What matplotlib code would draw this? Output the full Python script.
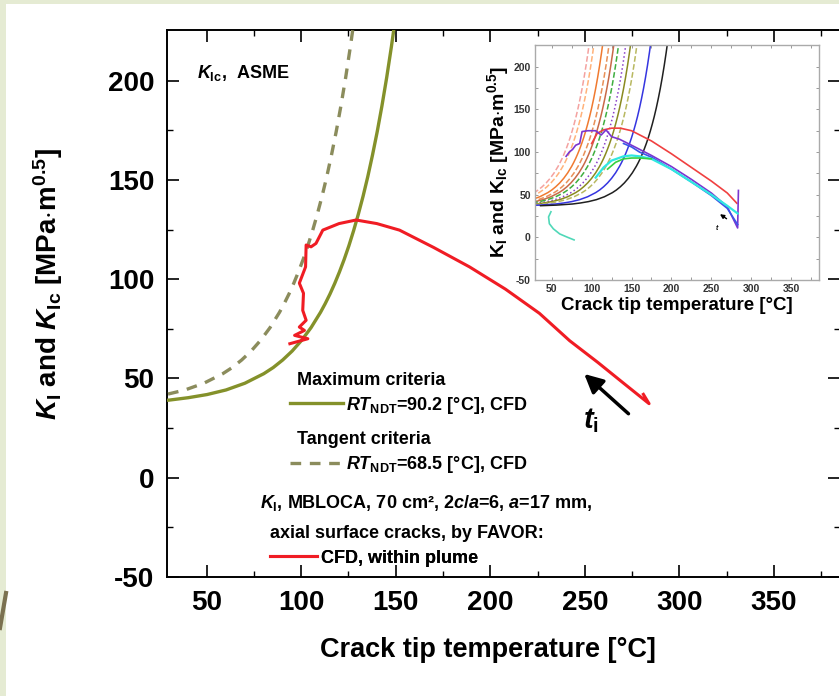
import matplotlib
matplotlib.use("Agg")
import matplotlib.pyplot as plt
from matplotlib.patches import Rectangle
from matplotlib.lines import Line2D
import numpy as np

plt.rcParams['font.family'] = ['Liberation Sans', 'DejaVu Sans']
plt.rcParams['font.weight'] = 'bold'
plt.rcParams['axes.labelweight'] = 'bold'
plt.rcParams['axes.unicode_minus'] = False
plt.rcParams['mathtext.fontset'] = 'custom'
plt.rcParams['mathtext.rm'] = 'Liberation Sans:bold'
plt.rcParams['mathtext.bf'] = 'Liberation Sans:bold'
plt.rcParams['mathtext.it'] = 'Liberation Sans:italic:bold'
plt.rcParams['mathtext.default'] = 'it'

# ASME K_Ic curve, read as (T - RT_NDT) offset vs toughness
kic_offset = [-100, -80, -60, -50, -40, -30, -20, -10, -5, 0, 5, 10, 15, 20, 22.5, 25,
              27.5, 30, 32.5, 35, 37.5, 40, 42.5, 45, 47.5, 50, 52.5, 55, 57.5, 60]
kic_value = [37.1, 37.8, 39.1, 40.3, 41.9, 44.2, 47.6, 52.4, 55.5, 59.3, 63.8, 69.2, 75.6,
             83.3, 87.7, 92.5, 97.8, 103.6, 109.9, 116.8, 124.4, 132.7, 141.7, 151.6,
             162.5, 174.3, 187.3, 201.5, 217.1, 234.0]

rt_max = 90.2   # maximum criteria
rt_tan = 68.5   # tangent criteria

# K_I, CFD within plume
ki_temp = [94, 103.5, 96.5, 101.7, 99, 102.6, 100.8, 101.2, 99, 102.3, 102.6, 105.2,
           107.8, 110.5, 111.4, 120, 129, 140, 152, 170, 189, 208, 226, 242, 257, 270, 284, 281]
ki_val = [67.5, 70, 71.7, 74.2, 75.9, 79.3, 84.3, 92.9, 98, 106.2, 117.2, 116.3,
          118, 123, 124.7, 128, 129.8, 128, 124.7, 116, 106.2, 95, 82.8, 69, 58, 48, 37.3, 42]

# inset: RT_NDT of each K_Ic curve
inset_rt = [38, 44, 55, 63, 69, 75, 84, 90, 98, 115, 136]
inset_rt_color = ['#f4a2a0', '#ffb27a', '#f07a30', '#e89058', '#c86a48', '#3fae3f',
                  '#8a40c8', '#8a8a20', '#b8b860', '#3535e0', '#202020']
inset_rt_style = ['--', '--', '-', '--', '-', '--', ':', '-', '--', '-', '-']

# inset: K_I histories
inset_ki = {
    'red': ([100, 107, 115, 125, 136, 150, 175, 200, 225, 250, 270, 282],
            [110, 122, 126, 128, 128, 125, 113, 98, 82, 66, 52, 40]),
    'purple': ([68, 72, 76, 80, 85, 88, 95, 105, 112, 118, 125, 135, 150, 175, 200, 225, 250, 270, 283, 284],
               [95, 100, 103, 108, 110, 124, 125, 125, 120, 126, 118, 115, 108, 96, 83, 68, 52, 36, 11, 55]),
    'blue': ([140, 150, 160, 175, 200, 225, 250, 270, 283],
             [110, 106, 100, 94, 80, 65, 49, 34, 15]),
    'cyan': ([105, 115, 125, 140, 150, 160, 175, 200, 225, 250, 270, 283],
             [70, 82, 90, 95, 96, 95, 92, 80, 65, 50, 37, 28]),
    'green': ([120, 130, 140, 150, 160, 175],
              [80, 88, 92, 93, 93, 92]),
    'teal': ([49, 46, 47, 52, 60, 70, 78],
             [30, 24, 16, 10, 4, 0, -3]),
}
inset_ki_color = {'red': '#f04040', 'purple': '#7a35d0', 'blue': '#3a55e8',
                  'cyan': '#30e8e0', 'green': '#35d040', 'teal': '#50d8b8'}

xlim = (29, 385)
ylim = (-50, 225.5)
fs_note = 13

fig = plt.figure(figsize=(8.39, 6.96), dpi=100)
fig.patch.set_facecolor('#e5ebd3')
fig.add_artist(Rectangle((6 / 839, 0), 1, 1 - 4 / 696, transform=fig.transFigure,
                         facecolor='white', edgecolor='none', zorder=-10))
fig.add_artist(Line2D([0, 6 / 839], [1 - 628 / 696, 1 - 593 / 696], color='#7b7150', lw=3))

ax = fig.add_axes([167 / 839, 1 - 577 / 696, 673 / 839, 547 / 696])
off = np.array(kic_offset)
ax.plot(off + rt_max, kic_value, color='#84912a', lw=2.4, zorder=3)
ax.plot(off + rt_tan, kic_value, color='#8b8c5c', lw=2.4, ls=(0, (3.2, 2.6)), zorder=3)
ax.plot(ki_temp, ki_val, color='#f01c24', lw=2.2, zorder=4)

ax.annotate('', xy=(248.6, 53.2), xytext=(274.2, 31.3),
            arrowprops=dict(arrowstyle='-|>', lw=2.5, color='black', mutation_scale=28))
ax.text(253, 29, r'$t_{\rm i}$', fontsize=21, ha='center', va='center')

ax.set_xlim(*xlim)
ax.set_ylim(*ylim)
ax.set_xticks([50, 100, 150, 200, 250, 300, 350])
ax.set_yticks([-50, 0, 50, 100, 150, 200])
ax.set_xticks(np.arange(75, 385, 50), minor=True)
ax.set_yticks(np.arange(-25, 225, 50), minor=True)
ax.tick_params(which='major', direction='in', length=8.5, width=1.2, labelsize=20,
               top=True, right=True, pad=9)
ax.tick_params(which='minor', direction='in', length=4.5, width=1.0, top=True, right=True)
for s in ax.spines.values():
    s.set_linewidth(1.4)
ax.set_xlabel('Crack tip temperature [°C]', fontsize=19.5, va='center')
ax.set_ylabel(r'$K_{\rm I}$ and $K_{\rm Ic}$ [MPa$\cdot$m$^{0.5}$]', fontsize=20, va='center')
ax.xaxis.set_label_coords(0.477, -0.133)
ax.yaxis.set_label_coords(-0.177, 0.535)

ax.text(0.045, 0.921, r'$K_{\rm Ic}$,  ASME', transform=ax.transAxes, fontsize=fs_note,
        va='center')

# legend block
ax.text(0.193, 0.360, 'Maximum criteria', transform=ax.transAxes, fontsize=fs_note, va='center')
ax.text(0.193, 0.2505, 'Tangent criteria', transform=ax.transAxes, fontsize=fs_note, va='center')
ax.text(0.138, 0.135, r'$K_{\rm I}$, MBLOCA, 70 cm², 2$c/a$=6, $a$=17 mm,',
        transform=ax.transAxes, fontsize=fs_note, va='center')
ax.text(0.153, 0.0804, 'axial surface cracks, by FAVOR:', transform=ax.transAxes,
        fontsize=fs_note, va='center')

h_max = Line2D([], [], color='#84912a', lw=2.4)
h_tan = Line2D([], [], color='#8b8c5c', lw=2.4, ls=(0, (3.2, 2.6)))
h_cfd = Line2D([], [], color='#f01c24', lw=2.2)
for h, lab, x, y, hl in [(h_max, r'$RT_{\rm NDT}$=90.2 [°C], CFD', 0.183, 0.3144, 2.9),
                         (h_tan, r'$RT_{\rm NDT}$=68.5 [°C], CFD', 0.183, 0.2048, 2.9),
                         (h_cfd, 'CFD, within plume', 0.153, 0.0347, 2.6)]:
    leg = ax.legend([h], [lab], loc='center left', bbox_to_anchor=(x, y),
                    bbox_transform=ax.transAxes, frameon=False, fontsize=fs_note,
                    handlelength=hl, handletextpad=0.2, borderpad=0, borderaxespad=0)
    ax.add_artist(leg)

# inset with all cases
ins = fig.add_axes([535 / 839, 1 - 280 / 696, 284 / 839, 235 / 696])
for rt, c, ls in zip(inset_rt, inset_rt_color, inset_rt_style):
    ins.plot(off + rt, kic_value, color=c, ls=ls, lw=1.1)
for k, (t, v) in inset_ki.items():
    ins.plot(t, v, color=inset_ki_color[k], lw=1.6 if k == 'cyan' else 1.2)
ins.annotate('', xy=(258, 29), xytext=(272, 20),
             arrowprops=dict(arrowstyle='-|>', lw=1.0, color='black', mutation_scale=6))
ins.text(257, 10, 't', fontsize=5, style='italic', ha='center', va='center')
ins.set_xlim(*xlim)
ins.set_ylim(*ylim)
ins.set_xticks([50, 100, 150, 200, 250, 300, 350])
ins.set_yticks([-50, 0, 50, 100, 150, 200])
ins.set_xticks(np.arange(75, 385, 50), minor=True)
ins.set_yticks(np.arange(-25, 225, 50), minor=True)
ins.tick_params(which='both', direction='in', length=2.5, width=0.7, color='#999999',
                labelsize=7.5, labelcolor='#333333', top=True, right=True, pad=3)
for s in ins.spines.values():
    s.set_color('#aaaaaa')
    s.set_linewidth(1.0)
ins.set_xlabel('Crack tip temperature [°C]', fontsize=13.5, labelpad=2)
ins.set_ylabel(r'K$_{\rm I}$ and K$_{\rm Ic}$ [MPa$\cdot$m$^{0.5}$]', fontsize=14, labelpad=2)

fig.savefig('out.png', dpi=100, facecolor=fig.get_facecolor())
